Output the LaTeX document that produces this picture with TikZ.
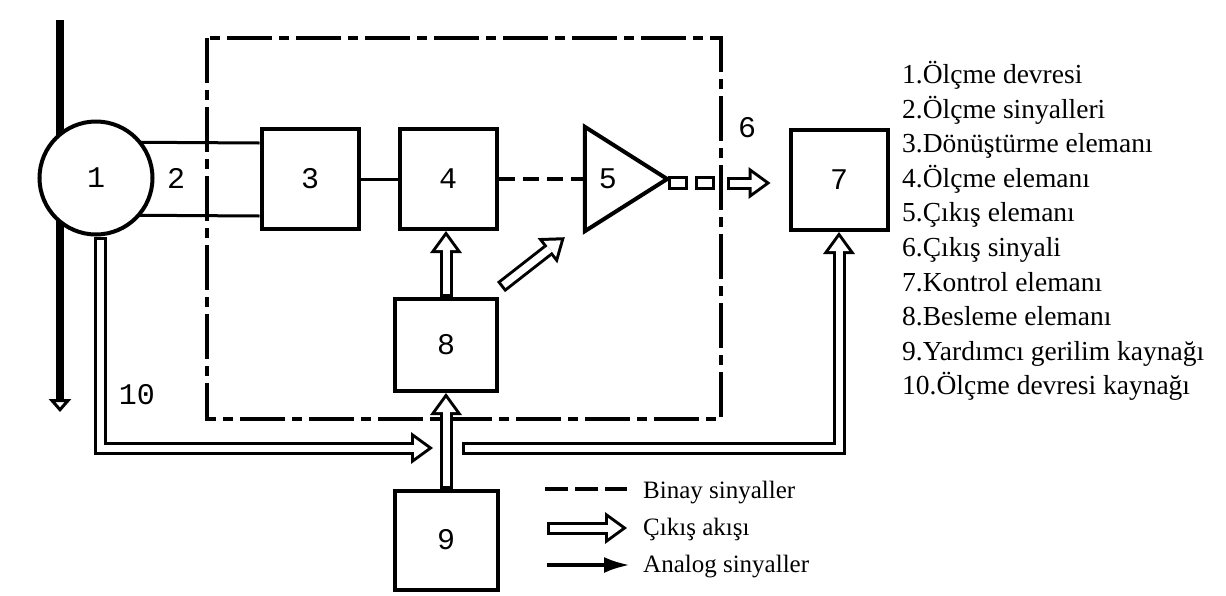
\documentclass[tikz,border=0pt]{standalone}
\usepackage{fontspec}
\setmainfont{Liberation Serif}
\newfontfamily\numfont{Liberation Mono}
\usetikzlibrary{arrows.meta, calc, positioning, backgrounds}

\begin{document}
\begin{tikzpicture}[
  x=1pt, y=-1pt,
  every node/.style={font=\numfont\fontsize{30}{30}\selectfont},
  blk/.style={draw, line width=4pt, fill=white,
              minimum width=97pt, minimum height=100pt},
  sqr/.style={draw, line width=3pt, fill=white, inner sep=0pt,
              minimum width=17pt, minimum height=11pt},
  wire/.style={line width=3pt},
  binary/.style={line width=3.5pt, dash pattern=on 16pt off 8pt},
  frame/.style={line width=4pt, dash pattern=on 45pt off 7pt on 10pt off 7pt},
  flow/.style={line width=13pt, -{Triangle[length=22pt, width=32pt, line width=0pt]},
               postaction={draw=white, line width=7pt, shorten <=3pt, shorten >=5.1pt,
                 -{Triangle[length=13.9pt, width=20.2pt, line width=0pt]}}},
  analog/.style={line width=4pt, -{Latex[length=26pt, width=16pt]}},
  keytxt/.style={font=\fontsize{27.5}{34.6}\selectfont, inner sep=0pt, align=left},
  legtxt/.style={font=\fontsize{25}{25}\selectfont, inner sep=0pt, anchor=base west}
]
  \useasboundingbox (0,0) rectangle (1226,595);

  % blocks
  \node[circle, draw, line width=4pt, fill=white, minimum size=113pt] (c1) at (96,178) {1};
  \node[blk] (b3) at (310,179) {3};
  \node[blk] (b4) at (448,179) {4};
  \node[minimum width=82pt, minimum height=104pt, inner sep=0pt] (amp) at (626,179) {};
  \node (five) at ($(amp.west)+(23,0)$) {5};
  \node[sqr] (sq1) at (678,183) {};
  \node[sqr] (sq2) at (705,183) {};
  \node[blk] (b7) at (839,180) {7};
  \node[blk, minimum width=102pt, minimum height=92pt] (b8) at (446,345) {8};
  \node[blk, minimum width=103pt, minimum height=99pt] (b9) at (446,540) {9};
  \draw[line width=4pt, line join=miter] (amp.north west) -- (amp.east) -- (amp.south west) -- cycle;

  % free labels
  \node (two) at (176,178) {2};
  \node (six) at (747,128) {6};
  \node (ten) at (137,395) {10};

  \node[keytxt, anchor=north west] (key) at (902,61) {1.Ölçme devresi\\2.Ölçme sinyalleri\\3.Dönüştürme elemanı\\4.Ölçme elemanı\\5.Çıkış elemanı\\6.Çıkış sinyali\\7.Kontrol elemanı\\8.Besleme elemanı\\9.Yardımcı gerilim kaynağı\\10.Ölçme devresi kaynağı};

  % legend
  \node[legtxt] (tbin) at (643,498) {Binay sinyaller};
  \node[legtxt] (tcik) at (643,535) {Çıkış akışı};
  \node[legtxt] (tana) at (643,572) {Analog sinyaller};
  \coordinate (lb1) at (545,489);  \coordinate (lb2) at (627,489);
  \coordinate (lc1) at (547,528);  \coordinate (lc2) at (627,528);
  \coordinate (la1) at (547,565);  \coordinate (la2) at (630,565);

  \coordinate (top) at (60,20);
  \coordinate (bot) at (60,412);
  \coordinate (jn) at (446,448);

  \begin{scope}[on background layer]
    \fill[white] (0,0) rectangle (1226,595);
    \draw[frame] (207,38) rectangle (721,419);
    \draw[line width=8pt, -{Triangle[open, length=13pt, width=22pt, line width=3pt]}] (top) -- (bot);
    \draw[wire] ($(b3.west)+(0,-36)$) -- ($(c1.center)+(0,-36)$);
    \draw[wire] ($(b3.west)+(0,37)$) -- ($(c1.center)+(0,37)$);
    \draw[wire] (b3) -- (b4);
    \draw[binary] (b4) -- (amp.west);
    \draw[flow] ($(sq2.east)+(12,0)$) -- ($(b7.west |- sq2)+(-18,0)$);
    \draw[flow] (b8.north) -- (b8.north |- b4.south);
    \draw[flow] ($(b8.north east)+(2,-10)$) -- ($(amp.south west)+(-20,6)$);
    \draw[flow] (b9.north) -- (b8.south);
    \draw[flow] ($(c1.south)+(4,0)$) |- ($(jn)+(-13,0)$);
    \draw[flow] ($(jn)+(16,0)$) -| (b7.south);
    \draw[binary, dash pattern=on 23pt off 7pt] (lb1) -- (lb2);
    \draw[flow] (lc1) -- (lc2);
    \draw[analog] (la1) -- (la2);
  \end{scope}
\end{tikzpicture}
\end{document}
